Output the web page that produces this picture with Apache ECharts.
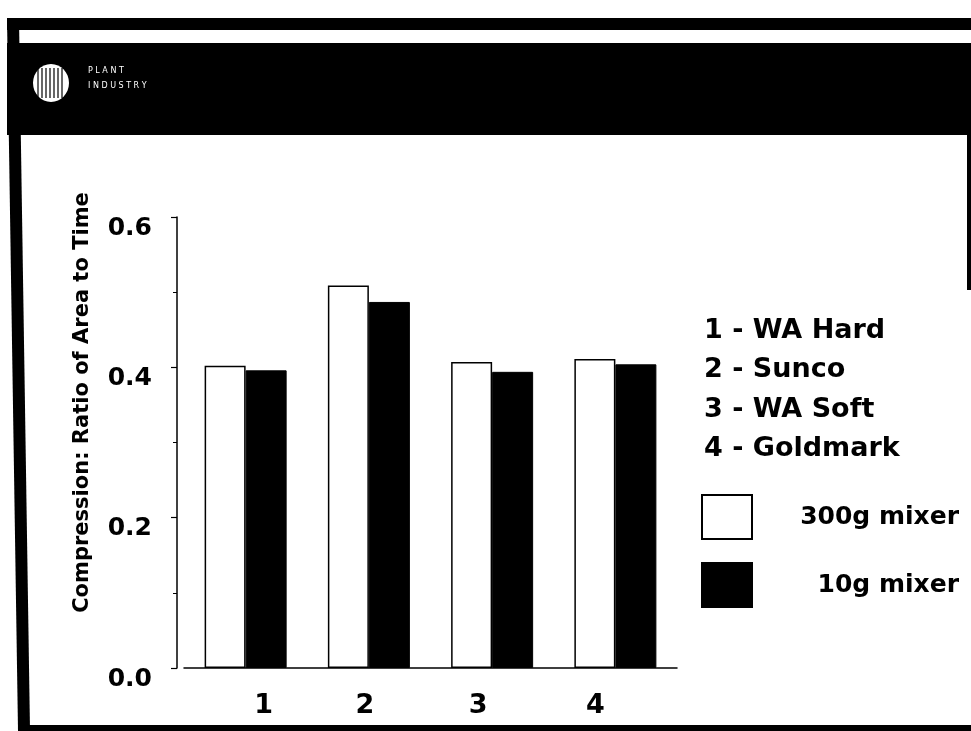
<!DOCTYPE html>
<html>
<head>
<meta charset="utf-8">
<script src="https://cdn.jsdelivr.net/npm/echarts@6/dist/echarts.min.js"></script>
<style>
  html, body { margin: 0; padding: 0; background: #fff; }
  #chart { width: 971px; height: 731px; }
</style>
</head>
<body>
<div id="chart"></div>
<script>
// ---- data ----
const categories = ['1', '2', '3', '4'];
const varietyNames = ['WA Hard', 'Sunco', 'WA Soft', 'Goldmark'];
const seriesNames = ['300g mixer', '10g mixer'];
const mixer300 = [0.402, 0.509, 0.407, 0.411];
const mixer10 = [0.396, 0.487, 0.394, 0.404];
const yTicks = [0.0, 0.2, 0.4, 0.6];
const yTitle = 'Compression: Ratio of Area to Time';
const headerLines = ['P L A N T', 'I N D U S T R Y'];

// ---- layout / style ----
const FONT = 'DejaVu Sans';
const labelShiftX = [18, -4, -14, -20];

const chart = echarts.init(document.getElementById('chart'), null, { renderer: 'canvas' });

const xRich = {};
labelShiftX.forEach((s, i) => {
  xRich['c' + i] = {
    fontFamily: FONT, fontWeight: 'bold', fontSize: 27, color: '#000',
    padding: s >= 0 ? [0, 0, 0, 2 * s] : [0, -2 * s, 0, 0]
  };
});

const stripes = [];
[-13, -9, -5, -1, 3, 7, 11].forEach(dx => {
  stripes.push({
    type: 'line',
    shape: { x1: 51 + dx, y1: 68, x2: 51 + dx, y2: 98 },
    style: { stroke: '#000', lineWidth: 1.2 }
  });
});

const keyText = categories.map((c, i) => c + ' - ' + varietyNames[i]).join('\n');

chart.setOption({
  backgroundColor: '#fff',
  animation: false,
  grid: { left: 184, top: 217, width: 493, height: 451, containLabel: false },
  xAxis: {
    type: 'category',
    data: categories,
    axisLine: { show: true, lineStyle: { color: '#000', width: 1.5 } },
    axisTick: { show: false },
    axisLabel: {
      margin: 24,
      formatter: (v, i) => '{c' + i + '|' + v + '}',
      rich: xRich
    },
    splitLine: { show: false }
  },
  yAxis: {
    type: 'value',
    min: yTicks[0],
    max: yTicks[yTicks.length - 1],
    interval: 0.2,
    offset: 7,
    name: yTitle,
    nameLocation: 'middle',
    nameRotate: 90,
    nameGap: 84,
    nameTextStyle: {
      fontFamily: FONT, fontWeight: 'bold', fontSize: 21, color: '#000',
      padding: [0, 0, 0, 80]
    },
    axisLine: { show: true, lineStyle: { color: '#000', width: 1.5 } },
    axisTick: { show: true, inside: false, length: 6, lineStyle: { color: '#000', width: 1.2 } },
    minorTick: { show: true, splitNumber: 2, length: 4, lineStyle: { color: '#000', width: 1 } },
    axisLabel: {
      margin: 25,
      fontFamily: FONT, fontWeight: 'bold', fontSize: 25, color: '#000',
      verticalAlign: 'top',
      lineHeight: 22,
      formatter: v => v.toFixed(1)
    },
    splitLine: { show: false }
  },
  legend: {
    orient: 'vertical',
    left: 701,
    top: 494,
    padding: 0,
    itemWidth: 50,
    itemHeight: 44,
    itemGap: 22,
    icon: 'rect',
    selectedMode: false,
    data: seriesNames,
    formatter: n => '{r|' + n + '}',
    textStyle: {
      rich: {
        r: { width: 202, align: 'right', fontFamily: FONT, fontWeight: 'bold', fontSize: 25, color: '#000' }
      }
    }
  },
  series: [
    {
      name: seriesNames[0],
      type: 'bar',
      data: mixer300,
      barWidth: 41,
      barGap: '0%',
      itemStyle: { color: '#fff', borderColor: '#000', borderWidth: 1.5 }
    },
    {
      name: seriesNames[1],
      type: 'bar',
      data: mixer10,
      barWidth: 41,
      barGap: '0%',
      itemStyle: { color: '#000', borderColor: '#000', borderWidth: 1 }
    }
  ],
  graphic: [
    // frame bands
    { type: 'rect', shape: { x: 7, y: 18, width: 964, height: 12 }, style: { fill: '#000' }, silent: true },
    { type: 'rect', shape: { x: 7, y: 43, width: 964, height: 92 }, style: { fill: '#000' }, silent: true },
    { type: 'polygon', shape: { points: [[7, 18], [19, 18], [30, 731], [18, 731]] }, style: { fill: '#000' }, silent: true },
    { type: 'rect', shape: { x: 18, y: 725, width: 953, height: 6 }, style: { fill: '#000' }, silent: true },
    { type: 'rect', shape: { x: 967, y: 120, width: 4, height: 170 }, style: { fill: '#000' }, silent: true },
    // logo
    { type: 'ellipse', shape: { cx: 51, cy: 83, rx: 18, ry: 19 }, style: { fill: '#fff' }, silent: true },
    { type: 'group', children: stripes, silent: true },
    {
      type: 'text', left: 88, top: 63, silent: true,
      style: { text: headerLines.join('\n'), fill: '#fff', font: '8px "DejaVu Sans"', lineHeight: 15 }
    },
    // category key
    {
      type: 'text', left: 704, top: 311, silent: true,
      style: { text: keyText, fill: '#000', fontFamily: FONT, fontWeight: 'bold', fontSize: 27, lineHeight: 39.5 }
    }
  ]
});
</script>
</body>
</html>
